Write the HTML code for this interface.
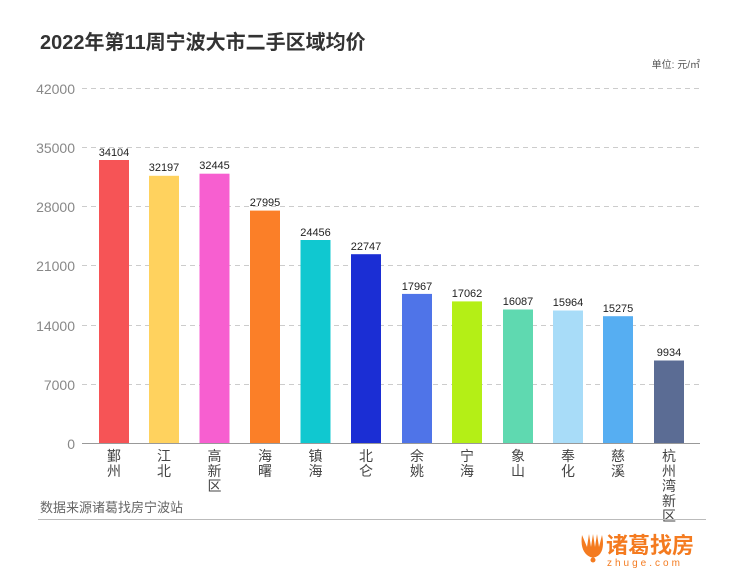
<!DOCTYPE html>
<html><head><meta charset="utf-8"><style>
body{margin:0;background:#fff;}
svg text{font-family:"Liberation Sans","Noto Sans CJK SC",sans-serif;}
</style></head><body>
<svg width="740" height="582" xmlns="http://www.w3.org/2000/svg">
<text x="40" y="49" font-size="20" font-weight="bold" fill="#333">2022年第11周宁波大市二手区域均价</text>
<text x="700" y="68" font-size="10" fill="#555" text-anchor="end">单位: 元/㎡</text>
<g stroke="#ccc" stroke-dasharray="5,4" stroke-width="1">
<line x1="82" x2="700" y1="88.5" y2="88.5"/>
<line x1="82" x2="700" y1="147.5" y2="147.5"/>
<line x1="82" x2="700" y1="206.5" y2="206.5"/>
<line x1="82" x2="700" y1="265.5" y2="265.5"/>
<line x1="82" x2="700" y1="325.5" y2="325.5"/>
<line x1="82" x2="700" y1="384.5" y2="384.5"/>
</g>
<g font-size="14" fill="#888" text-anchor="end">
<text x="75" y="94">42000</text><text x="75" y="153">35000</text><text x="75" y="212">28000</text>
<text x="75" y="271">21000</text><text x="75" y="331">14000</text><text x="75" y="390">7000</text><text x="75" y="449">0</text>
</g>
<g>
<rect x="99" y="160" width="30" height="283" fill="#f65456"/>
<rect x="149" y="175.8" width="30" height="267.2" fill="#ffd25e"/>
<rect x="199.5" y="173.7" width="30" height="269.3" fill="#f75fd0"/>
<rect x="250" y="210.6" width="30" height="232.4" fill="#fb7f28"/>
<rect x="300.5" y="240" width="30" height="203" fill="#10c8d0"/>
<rect x="351" y="254.2" width="30" height="188.8" fill="#1b2ed4"/>
<rect x="402" y="293.9" width="30" height="149.1" fill="#4f74e8"/>
<rect x="452" y="301.4" width="30" height="141.6" fill="#b4ef16"/>
<rect x="503" y="309.5" width="30" height="133.5" fill="#5fd9b0"/>
<rect x="553" y="310.5" width="30" height="132.5" fill="#a8dcf8"/>
<rect x="603" y="316.2" width="30" height="126.8" fill="#56aef2"/>
<rect x="654" y="360.5" width="30" height="82.5" fill="#5b6c94"/>
</g>
<line x1="82" x2="700" y1="443.5" y2="443.5" stroke="#999"/>
<g font-size="11" fill="#222" text-anchor="middle">
<text x="114" y="156">34104</text><text x="164" y="171">32197</text><text x="214.5" y="169">32445</text>
<text x="265" y="206">27995</text><text x="315.5" y="236">24456</text><text x="366" y="250">22747</text>
<text x="417" y="290">17967</text><text x="467" y="297">17062</text><text x="518" y="305">16087</text>
<text x="568" y="306">15964</text><text x="618" y="312">15275</text><text x="669" y="356">9934</text>
</g>
<g font-size="14" fill="#444" text-anchor="middle">
<text x="114" y="461">鄞</text><text x="114" y="476">州</text>
<text x="164" y="461">江</text><text x="164" y="476">北</text>
<text x="214.5" y="461">高</text><text x="214.5" y="476">新</text><text x="214.5" y="491">区</text>
<text x="265" y="461">海</text><text x="265" y="476">曙</text>
<text x="315.5" y="461">镇</text><text x="315.5" y="476">海</text>
<text x="366" y="461">北</text><text x="366" y="476">仑</text>
<text x="417" y="461">余</text><text x="417" y="476">姚</text>
<text x="467" y="461">宁</text><text x="467" y="476">海</text>
<text x="518" y="461">象</text><text x="518" y="476">山</text>
<text x="568" y="461">奉</text><text x="568" y="476">化</text>
<text x="618" y="461">慈</text><text x="618" y="476">溪</text>
<text x="669" y="461">杭</text><text x="669" y="476">州</text><text x="669" y="491">湾</text><text x="669" y="506">新</text><text x="669" y="521">区</text>
</g>
<text x="40" y="512" font-size="13" fill="#666">数据来源诸葛找房宁波站</text>
<line x1="38" x2="706" y1="519.5" y2="519.5" stroke="#bbb"/>
<g fill="#f47b20">
<path d="M582 535 q-2 14 5 20 q6 5 12 0 q6 -6 3 -20 l-3 12 l-2 -13 l-2 13 l-2 -13 l-2 13 l-2 -13 l-2 13 z"/>
<circle cx="593" cy="560" r="2.5"/>
<text x="606" y="553" font-size="22" font-weight="bold">诸葛找房</text>
<text x="607" y="566" font-size="10" letter-spacing="3">zhuge.com</text>
</g>
</svg>
</body></html>
